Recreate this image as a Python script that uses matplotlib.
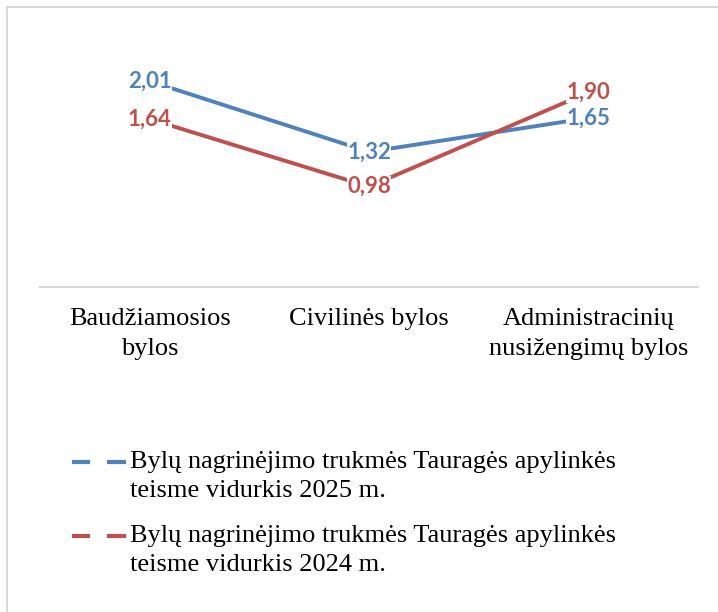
import matplotlib.pyplot as plt
from matplotlib.lines import Line2D
import matplotlib

matplotlib.use("Agg")

categories = ["Baudžiamosios\nbylos", "Civilinės bylos", "Administracinių\nnusižengimų bylos"]
values_2025 = [2.01, 1.32, 1.65]
values_2024 = [1.64, 0.98, 1.90]
series_names = [
    "Bylų nagrinėjimo trukmės Tauragės apylinkės\nteisme vidurkis 2025 m.",
    "Bylų nagrinėjimo trukmės Tauragės apylinkės\nteisme vidurkis 2024 m.",
]
colors = ["#4F81BD", "#C0504D"]

W, H = 718, 612
fig = plt.figure(figsize=(W / 100, H / 100), dpi=100)
ax = fig.add_axes([40 / W, 1 - 287 / H, 658 / W, 256 / H])

x = range(len(categories))
for vals, col in zip([values_2025, values_2024], colors):
    ax.plot(x, vals, color=col, linewidth=2.8, solid_capstyle="butt", zorder=2)
    for xi, v in zip(x, vals):
        ax.text(xi, v, f"{v:.2f}".replace(".", ","), color=col, ha="center",
                va="center", fontsize=16, fontweight="bold", family="Lato",
                bbox=dict(facecolor="white", edgecolor="none", pad=0.3), zorder=3)

ax.set_xlim(-0.5, 2.5)
ax.set_ylim(0, 2.5)
ax.set_yticks([])
ax.set_xticks([])
for side in ["top", "right", "left"]:
    ax.spines[side].set_visible(False)
ax.spines["bottom"].set_color("#D9D9D9")
ax.spines["bottom"].set_linewidth(1.5)

# category labels under the axis
for xi, cat in zip(x, categories):
    ax.annotate(cat, (xi, 0), xycoords=("data", "axes fraction"),
                xytext=(0, -21), textcoords="offset pixels", ha="center", va="top",
                fontsize=19, family="Liberation Serif", linespacing=1.5)

# legend below the plot
legend_y = [462, 536]
for name, col, ly in zip(series_names, colors, legend_y):
    yf = 1 - ly / H
    for x0, x1 in [(72, 90), (107, 126)]:
        fig.add_artist(Line2D([x0 / W, x1 / W], [yf, yf], color=col, linewidth=3,
                              solid_capstyle="butt", transform=fig.transFigure))
    fig.text(130 / W, 1 - (ly - 11) / H, name, ha="left", va="top", fontsize=19,
             family="Liberation Serif", linespacing=1.4)

# chart frame (left and top edges visible)
fig.add_artist(Line2D([6.5 / W, 6.5 / W], [0, 1 - 7 / H], color="#D9D9D9",
                      linewidth=1.5, transform=fig.transFigure))
fig.add_artist(Line2D([6.5 / W, 1], [1 - 7 / H, 1 - 7 / H], color="#D9D9D9",
                      linewidth=1.5, transform=fig.transFigure))

fig.savefig("out.png", dpi=100, facecolor="white")
